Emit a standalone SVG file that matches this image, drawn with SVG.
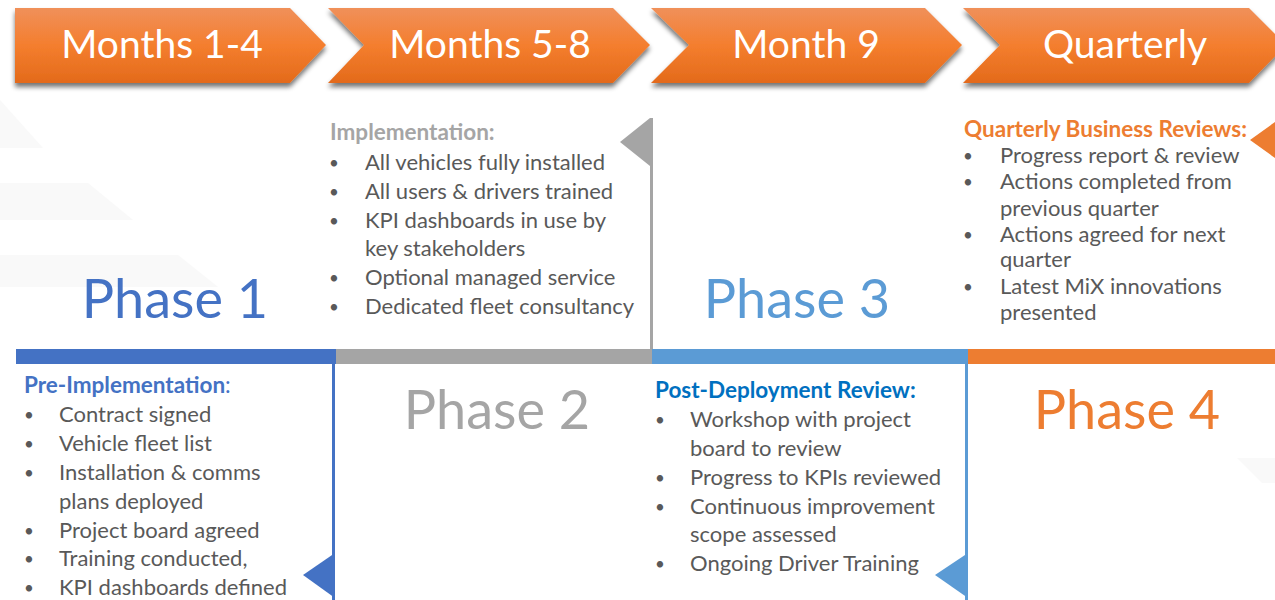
<svg xmlns="http://www.w3.org/2000/svg" width="1275" height="600" viewBox="0 0 1275 600">
<defs>
<linearGradient id="og" x1="0" y1="0" x2="0" y2="1">
<stop offset="0" stop-color="#F0905A"/>
<stop offset="0.5" stop-color="#F47E2E"/>
<stop offset="1" stop-color="#E36A1B"/>
</linearGradient>
<filter id="sh" x="-5%" y="-20%" width="110%" height="150%">
<feGaussianBlur in="SourceAlpha" stdDeviation="2.5"/>
<feOffset dx="0" dy="4" result="b"/>
<feComponentTransfer><feFuncA type="linear" slope="0.55"/></feComponentTransfer>
<feMerge><feMergeNode/><feMergeNode in="SourceGraphic"/></feMerge>
</filter>
</defs>
<style>
.chev{fill:url(#og);filter:url(#sh)}
.ct{font-family:Lato,"Open Sans",sans-serif;font-size:39px;fill:#fff;text-anchor:middle}
.ph{font-family:Lato,"Open Sans",sans-serif;font-size:54px;text-anchor:middle}
.hd{font-family:Lato,"Open Sans",sans-serif;font-size:22.5px;font-weight:bold}
.tx{font-family:Lato,"Open Sans",sans-serif;font-size:22px;fill:#595959}
.bu{font-size:17px}
.bg{fill:#F9F9F9}
</style>
<rect width="1275" height="600" fill="#fff"/>
<g id="background">
<polygon class="bg" points="0,100 0,100 43,148 0,148"/>
<polygon class="bg" points="0,183 88,183 133,220 0,220"/>
<polygon class="bg" points="0,255 178,255 218,287 0,287"/>
<polygon class="bg" points="1237,458 1275,458 1275,483 1262,483"/>
</g>
<g id="chevrons">
<g id="chev1"><path class="chev" d="M15,8 L290,8 L326,45 L290,83 L15,83 Z"/><text class="ct" x="162" y="58">Months 1-4</text></g>
<g id="chev2"><path class="chev" d="M328,8 L613,8 L650,45 L613,83 L328,83 L364,45 Z"/><text class="ct" x="490" y="58">Months 5-8</text></g>
<g id="chev3"><path class="chev" d="M651,8 L925,8 L962,45 L925,83 L651,83 L689,45 Z"/><text class="ct" x="806" y="58">Month 9</text></g>
<g id="chev4"><path class="chev" d="M963,8 L1249,8 L1286,45 L1249,83 L963,83 L1000,45 Z"/><text class="ct" x="1125" y="58">Quarterly</text></g>
</g>
<g id="timeline">
<rect x="16" y="349" width="320" height="15" fill="#4472C4"/>
<rect x="336" y="349" width="316" height="15" fill="#A5A5A5"/>
<rect x="652" y="349" width="316" height="15" fill="#5B9BD5"/>
<rect x="968" y="349" width="307" height="15" fill="#ED7D31"/>
</g>
<g id="flags">
<rect x="332" y="364" width="3" height="236" fill="#4472C4"/>
<polygon points="335,553 335,598 303,575" fill="#4472C4"/>
<rect x="650" y="118" width="3" height="231" fill="#A5A5A5"/>
<polygon points="650,118 650,166 620,142" fill="#A5A5A5"/>
<rect x="965" y="364" width="3" height="236" fill="#5B9BD5"/>
<polygon points="968,553 968,598 935,575" fill="#5B9BD5"/>
<polygon points="1275,122 1275,158 1250,140" fill="#ED7D31"/>
</g>
<g id="phase1">
<text class="ph" x="175" y="318" fill="#4472C4">Phase 1</text>
<text class="hd" x="24" y="393" fill="#4472C4">Pre-Implementation<tspan font-weight="normal">:</tspan></text>
<g class="tx">
<text class="bu" x="24" y="421">•</text><text x="59" y="422">Contract signed</text>
<text class="bu" x="24" y="450">•</text><text x="59" y="451">Vehicle fleet list</text>
<text class="bu" x="24" y="479">•</text><text x="59" y="480">Installation &amp; comms</text>
<text x="59" y="509">plans deployed</text>
<text class="bu" x="24" y="537">•</text><text x="59" y="538">Project board agreed</text>
<text class="bu" x="24" y="565">•</text><text x="59" y="566">Training conducted,</text>
<text class="bu" x="24" y="594">•</text><text x="59" y="595">KPI dashboards defined</text>
</g>
</g>
<g id="phase2">
<text class="ph" x="497" y="429" fill="#A5A5A5">Phase 2</text>
<text class="hd" x="330" y="140" fill="#A5A5A5">Implementation:</text>
<g class="tx">
<text class="bu" x="329" y="169">•</text><text x="365" y="170">All vehicles fully installed</text>
<text class="bu" x="329" y="198">•</text><text x="365" y="199">All users &amp; drivers trained</text>
<text class="bu" x="329" y="227">•</text><text x="365" y="228">KPI dashboards in use by</text>
<text x="365" y="256">key stakeholders</text>
<text class="bu" x="329" y="284">•</text><text x="365" y="285">Optional managed service</text>
<text class="bu" x="329" y="313">•</text><text x="365" y="314">Dedicated fleet consultancy</text>
</g>
</g>
<g id="phase3">
<text class="ph" x="797" y="318" fill="#5B9BD5">Phase 3</text>
<text class="hd" x="655" y="398" fill="#0070C0">Post-Deployment Review:</text>
<g class="tx">
<text class="bu" x="655" y="426">•</text><text x="690" y="427">Workshop with project</text>
<text x="690" y="456">board to review</text>
<text class="bu" x="655" y="484">•</text><text x="690" y="485">Progress to KPIs reviewed</text>
<text class="bu" x="655" y="513">•</text><text x="690" y="514">Continuous improvement</text>
<text x="690" y="542">scope assessed</text>
<text class="bu" x="655" y="570">•</text><text x="690" y="571">Ongoing Driver Training</text>
</g>
</g>
<g id="phase4">
<text class="ph" x="1127" y="429" fill="#ED7D31">Phase 4</text>
<text class="hd" x="964" y="137" fill="#ED7D31">Quarterly Business Reviews:</text>
<g class="tx">
<text class="bu" x="963" y="162">•</text><text x="1000" y="163">Progress report &amp; review</text>
<text class="bu" x="963" y="188">•</text><text x="1000" y="189">Actions completed from</text>
<text x="1000" y="216">previous quarter</text>
<text class="bu" x="963" y="241">•</text><text x="1000" y="242">Actions agreed for next</text>
<text x="1000" y="267">quarter</text>
<text class="bu" x="963" y="293">•</text><text x="1000" y="294">Latest MiX innovations</text>
<text x="1000" y="320">presented</text>
</g>
</g>
</svg>
